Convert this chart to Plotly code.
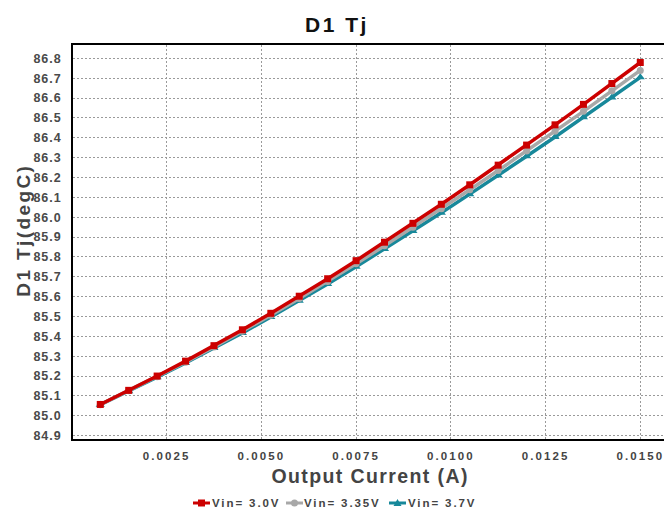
import json
import plotly.graph_objects as go

output_current = [0.00075, 0.0015, 0.00225, 0.003, 0.00375, 0.0045, 0.00525, 0.006, 0.00675, 0.0075,
                  0.00825, 0.009, 0.00975, 0.0105, 0.01125, 0.012, 0.01275, 0.0135, 0.01425, 0.015]

tj_vin_3_0 = [85.057, 85.128, 85.200, 85.275, 85.353, 85.433, 85.516, 85.602, 85.690, 85.781,
              85.874, 85.969, 86.065, 86.163, 86.262, 86.363, 86.465, 86.568, 86.673, 86.779]
tj_vin_3_35 = [85.056, 85.126, 85.197, 85.270, 85.346, 85.425, 85.506, 85.590, 85.676, 85.765,
               85.856, 85.949, 86.042, 86.138, 86.235, 86.333, 86.433, 86.533, 86.636, 86.739]
tj_vin_3_7 = [85.056, 85.124, 85.194, 85.266, 85.341, 85.417, 85.497, 85.579, 85.663, 85.750,
              85.840, 85.930, 86.022, 86.116, 86.210, 86.307, 86.404, 86.503, 86.603, 86.704]

series_names = ["Vin= 3.0V", "Vin= 3.35V", "Vin= 3.7V"]
series_colors = ["#CC0000", "#A8A8A8", "#17889A"]
x_ticks = [0.0025, 0.005, 0.0075, 0.01, 0.0125, 0.015]
x_tick_labels = ["0.0025", "0.0050", "0.0075", "0.0100", "0.0125", "0.0150"]
y_ticks = [84.9, 85.0, 85.1, 85.2, 85.3, 85.4, 85.5, 85.6, 85.7, 85.8, 85.9,
           86.0, 86.1, 86.2, 86.3, 86.4, 86.5, 86.6, 86.7, 86.8]
y_tick_labels = [f"{v:.1f}" for v in y_ticks]
chart_title = "D1 Tj"
x_title = "Output Current (A)"
y_title = "D1 Tj(degC)"

FONT = "Liberation Sans, Arial, sans-serif"
W, H = 664, 515
L, R, T, B = 73, 0, 45, 76
PW, PH = W - L - R, H - T - B


def px_x(px):
    return (px - L) / PW


def px_y(py):
    return (H - B - py) / PH


fig = go.Figure()
# draw order: teal, gray, red on top
fig.add_trace(go.Scatter(x=output_current, y=tj_vin_3_7, name=series_names[2], mode="lines+markers",
                         line=dict(color=series_colors[2], width=3.5),
                         marker=dict(symbol="triangle-up", size=8, color=series_colors[2])))
fig.add_trace(go.Scatter(x=output_current, y=tj_vin_3_35, name=series_names[1], mode="lines+markers",
                         line=dict(color=series_colors[1], width=3.5),
                         marker=dict(symbol="circle", size=7, color=series_colors[1])))
fig.add_trace(go.Scatter(x=output_current, y=tj_vin_3_0, name=series_names[0], mode="lines+markers",
                         line=dict(color=series_colors[0], width=3.5),
                         marker=dict(symbol="square", size=7, color=series_colors[0])))

annotations = []
spacings = []
# axis titles
annotations.append(dict(text=f"<b>{x_title}</b>", xref="paper", yref="paper",
                        x=px_x(370), y=px_y(476.5), xanchor="center", yanchor="middle",
                        showarrow=False, font=dict(size=19.5, color="#444444", family=FONT)))
spacings.append("1.4px")
annotations.append(dict(text=f"<b>{y_title}</b>", xref="paper", yref="paper",
                        x=px_x(22.5), y=px_y(230), xanchor="center", yanchor="middle", textangle=-90,
                        showarrow=False, font=dict(size=19, color="#444444", family=FONT)))
spacings.append("2.4px")

# custom legend
shapes = []
legend_sym = [(193, 210), (286, 303), (389, 406)]
legend_txt = [210, 302, 405.5]
legend_y = 503
for i in range(3):
    x0, x1 = legend_sym[i]
    shapes.append(dict(type="line", xref="paper", yref="paper", x0=px_x(x0), x1=px_x(x1),
                       y0=px_y(legend_y), y1=px_y(legend_y), line=dict(color=series_colors[i], width=3)))
    cx = (x0 + x1) / 2
    if i == 0:
        shapes.append(dict(type="rect", xref="paper", yref="paper", x0=px_x(cx - 3.5), x1=px_x(cx + 3.5),
                           y0=px_y(legend_y + 3.5), y1=px_y(legend_y - 3.5),
                           fillcolor=series_colors[i], line=dict(width=0)))
    elif i == 1:
        shapes.append(dict(type="circle", xref="paper", yref="paper", x0=px_x(cx - 3.5), x1=px_x(cx + 3.5),
                           y0=px_y(legend_y + 3.5), y1=px_y(legend_y - 3.5),
                           fillcolor=series_colors[i], line=dict(width=0)))
    else:
        path = (f"M {px_x(cx - 4)},{px_y(legend_y + 3)} L {px_x(cx + 4)},{px_y(legend_y + 3)} "
                f"L {px_x(cx)},{px_y(legend_y - 4)} Z")
        shapes.append(dict(type="path", xref="paper", yref="paper", path=path,
                           fillcolor=series_colors[i], line=dict(width=0)))
    annotations.append(dict(text=f"<b>{series_names[i]}</b>", xref="paper", yref="paper",
                            x=px_x(legend_txt[i]), y=px_y(legend_y), xanchor="left", yanchor="middle",
                            align="left", showarrow=False,
                            font=dict(size=11.5, color="#444444", family=FONT)))
    spacings.append("1.9px")

fig.update_layout(
    width=W, height=H,
    margin=dict(l=L, r=R, t=T, b=B),
    paper_bgcolor="white", plot_bgcolor="white",
    font=dict(family=FONT, color="#555555"),
    title=dict(text=f"<b>{chart_title}</b>", x=337 / W, xanchor="center", y=1 - 25 / H, yanchor="middle",
               font=dict(size=21, color="#111111", family=FONT)),
    showlegend=False,
    annotations=annotations,
    shapes=shapes,
)

fig.update_xaxes(
    range=[0.00003, 0.015626], automargin=False,
    tickvals=x_ticks, ticktext=[f"<b>{t}</b>" for t in x_tick_labels],
    tickfont=dict(size=11.5, color="#444444", family=FONT),
    showgrid=True, gridcolor="#9A9A9A", griddash="2px,2px", gridwidth=1,
    showline=True, linecolor="black", linewidth=1.5, mirror=True,
    ticks="", zeroline=False, ticklabelstandoff=5,
)
fig.update_yaxes(
    range=[84.883, 86.867], automargin=False,
    tickvals=y_ticks, ticktext=[f"<b>{t}</b>" for t in y_tick_labels],
    tickfont=dict(size=12.5, color="#4A4A4A", family=FONT),
    showgrid=True, gridcolor="#9A9A9A", griddash="2px,2px", gridwidth=1,
    showline=True, linecolor="black", linewidth=1.5, mirror=False,
    ticks="", zeroline=False, ticklabelstandoff=7,
)

post_script = """
document.body.style.margin = '0';
document.body.style.padding = '0';
document.body.style.overflow = 'hidden';
var gd = document.getElementById('{plot_id}');
var annSp = %s;
function applySpacing() {
  gd.querySelectorAll('.xtick text').forEach(function(t){ t.style.letterSpacing = '2.1px'; });
  gd.querySelectorAll('.ytick text').forEach(function(t){ t.style.letterSpacing = '1px'; });
  gd.querySelectorAll('text.gtitle').forEach(function(t){ t.style.letterSpacing = '2.5px'; });
  gd.querySelectorAll('g.annotation').forEach(function(g){
    var i = parseInt(g.getAttribute('data-index'));
    var sp = annSp[i];
    if (sp) { g.querySelectorAll('text').forEach(function(t){ t.style.letterSpacing = sp; }); }
  });
}
applySpacing();
if (gd.on) { gd.on('plotly_afterplot', applySpacing); }
""" % json.dumps(spacings)

fig.write_html("out.html", post_script=post_script, config={"displayModeBar": False})
